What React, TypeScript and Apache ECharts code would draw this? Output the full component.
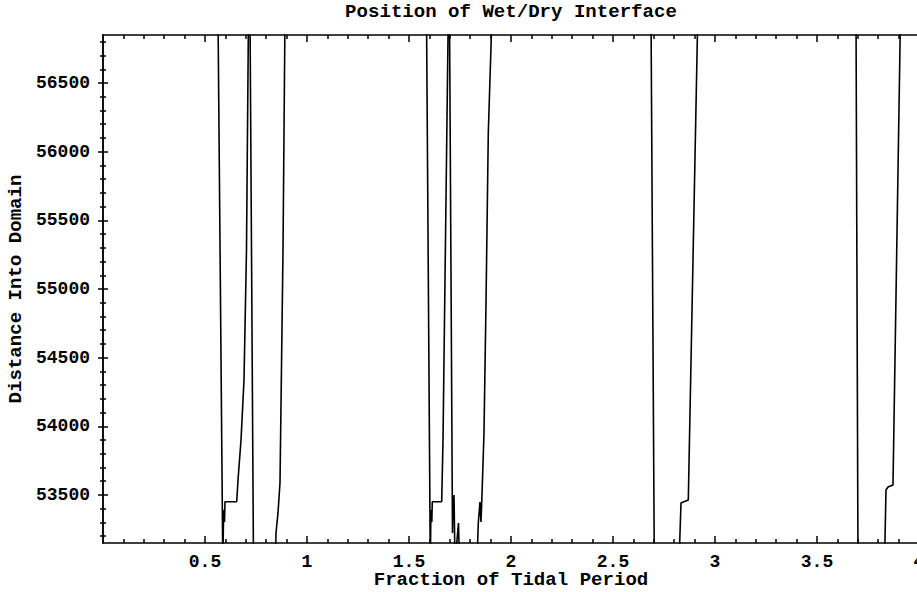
import React, { useEffect, useRef } from "react";
import * as echarts from "echarts";

// Interface position vs. time (values beyond the plot range are clipped by the frame)
const timeValues: number[] = [
  0, 0.5637, 0.5873, 0.5907, 0.5931, 0.5956, 0.598, 0.6554, 0.6618, 0.6765, 0.6912, 0.7034, 0.7132,
  0.7206, 0.7377, 0.8455, 0.848, 0.8578, 0.8676, 0.8824, 0.8922,
  1.5858, 1.6044, 1.6069, 1.6093, 1.6118, 1.6142, 1.6603, 1.6667, 1.6848, 1.6926,
  1.6985, 1.7132, 1.7157, 1.7181, 1.7206, 1.7255, 1.7426, 1.7475, 1.8333, 1.8397, 1.848, 1.8529,
  1.8578, 1.8676, 1.8775, 1.8887, 1.9069,
  2.6863, 2.7025, 2.8235, 2.8333, 2.8446, 2.8691, 2.9157,
  3.6912, 3.701, 3.8309, 3.8382, 3.848, 3.8725, 3.9093, 4.0,
];
const positionValues: number[] = [
  57000, 57000, 53000, 53318, 53391, 53303, 53450, 53450, 53609, 53900, 54337, 55284, 57000,
  57000, 53000, 53000, 53223, 53369, 53587, 55284, 57000,
  57000, 53000, 53318, 53391, 53303, 53450, 53450, 53900, 56063, 57000,
  57000, 53223, 53463, 53318, 53500, 53000, 53296, 53000, 53000, 53296, 53449, 53303,
  53500, 53951, 54898, 56136, 57000,
  57000, 53000, 53000, 53442, 53449, 53463, 57000,
  57000, 53000, 53000, 53536, 53558, 53573, 57000, 57000,
];

const xMajorTicks: number[] = [0.5, 1, 1.5, 2, 2.5, 3, 3.5, 4];
const xMinorTicks: number[] = [
  0.1, 0.2, 0.3, 0.4, 0.6, 0.7, 0.8, 0.9, 1.1, 1.2, 1.3, 1.4, 1.6, 1.7, 1.8, 1.9,
  2.1, 2.2, 2.3, 2.4, 2.6, 2.7, 2.8, 2.9, 3.1, 3.2, 3.3, 3.4, 3.6, 3.7, 3.8, 3.9,
];
const yMajorTicks: number[] = [53500, 54000, 54500, 55000, 55500, 56000, 56500];
const yMinorTicks: number[] = [
  53200, 53300, 53400, 53600, 53700, 53800, 53900, 54100, 54200, 54300, 54400,
  54600, 54700, 54800, 54900, 55100, 55200, 55300, 55400, 55600, 55700, 55800, 55900,
  56100, 56200, 56300, 56400, 56600, 56700, 56800,
];

const X_MIN = 0;
const X_MAX = 4;
const Y_MIN = 53150;
const Y_MAX = 56850;

const titleText = "Position of Wet/Dry Interface";
const xName = "Fraction of Tidal Period";
const yName = "Distance Into Domain";

const FONT_FAMILY = "'Liberation Mono', 'Courier New', monospace";

export default function App() {
  const ref = useRef<HTMLDivElement>(null);

  useEffect(() => {
    if (!ref.current) return;
    const chart = echarts.init(ref.current, undefined, { renderer: "svg" });

    const lineStyle = { color: "#000", width: 1.5 };
    const labelStyle = {
      fontFamily: FONT_FAMILY,
      fontSize: 18,
      fontWeight: "bold" as const,
      color: "#000",
    };

    const makeX = (position: "bottom" | "top", major: boolean) => ({
      type: "value" as const,
      position,
      min: X_MIN,
      max: X_MAX,
      axisLine: { show: major, lineStyle },
      splitLine: { show: false },
      axisTick: {
        show: true,
        inside: true,
        length: major ? 7 : 4,
        customValues: major ? xMajorTicks : xMinorTicks,
        lineStyle,
      },
      axisLabel: {
        show: major && position === "bottom",
        customValues: xMajorTicks,
        formatter: (v: number) => String(v),
        margin: 10,
        ...labelStyle,
      },
    });

    const makeY = (position: "left" | "right", major: boolean) => ({
      type: "value" as const,
      position,
      min: Y_MIN,
      max: Y_MAX,
      axisLine: { show: major, lineStyle },
      splitLine: { show: false },
      axisTick: {
        show: true,
        inside: true,
        length: major ? 5 : 3,
        customValues: major ? yMajorTicks : yMinorTicks,
        lineStyle,
      },
      axisLabel: {
        show: major && position === "left",
        customValues: yMajorTicks,
        formatter: (v: number) => String(v),
        margin: 13,
        ...labelStyle,
      },
    });

    const data = timeValues.map((t, i) => [t, positionValues[i]]);

    const textStyle = (text: string) => ({
      text,
      font: `bold 18px ${FONT_FAMILY}`,
      fill: "#000",
      align: "center",
      verticalAlign: "middle",
      textAlign: "center",
      textVerticalAlign: "middle",
    });

    chart.setOption({
      animation: false,
      backgroundColor: "#fff",
      grid: {
        left: 103,
        top: 35,
        width: 816,
        height: 508,
        containLabel: false,
        outerBoundsMode: "none",
      },
      xAxis: [makeX("bottom", true), makeX("bottom", false), makeX("top", true), makeX("top", false)],
      yAxis: [makeY("left", true), makeY("left", false), makeY("right", true), makeY("right", false)],
      series: [
        {
          type: "line",
          xAxisIndex: 0,
          yAxisIndex: 0,
          data,
          symbol: "none",
          showSymbol: false,
          clip: true,
          lineStyle: { color: "#000", width: 1.6 },
        },
      ],
      graphic: [
        { type: "text", x: 511, y: 13, scaleX: 1.06, style: textStyle(titleText) },
        { type: "text", x: 511, y: 581, scaleX: 1.06, style: textStyle(xName) },
        { type: "text", x: 17, y: 289, scaleX: 1.06, rotation: Math.PI / 2, style: textStyle(yName) },
      ],
    });

    return () => chart.dispose();
  }, []);

  return (
    <div
      ref={ref}
      style={{ position: "absolute", left: 0, top: 0, width: 917, height: 592, overflow: "hidden" }}
    />
  );
}
